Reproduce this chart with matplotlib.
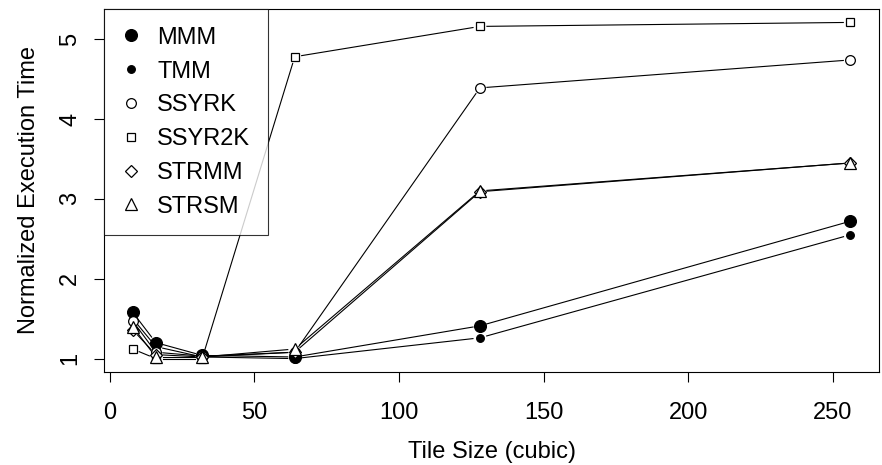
import numpy as np
import matplotlib
matplotlib.use("Agg")
import matplotlib.pyplot as plt

plt.rcParams['font.family'] = ['Liberation Sans', 'DejaVu Sans']

tile_size = [8, 16, 32, 64, 128, 256]
mmm = [1.58, 1.20, 1.04, 1.02, 1.41, 2.72]
tmm = [1.50, 1.15, 1.02, 1.00, 1.26, 2.55]
ssyrk = [1.47, 1.08, 1.03, 1.08, 4.39, 4.74]
ssyr2k = [1.12, 1.00, 1.00, 4.78, 5.16, 5.21]
strmm = [1.36, 1.05, 1.02, 1.08, 3.09, 3.45]
strsm = [1.40, 1.02, 1.02, 1.12, 3.10, 3.45]

series = [
    ("MMM", mmm, dict(marker='o', markersize=8.5, markerfacecolor='black')),
    ("TMM", tmm, dict(marker='o', markersize=5.5, markerfacecolor='black')),
    ("SSYRK", ssyrk, dict(marker='o', markersize=7, markerfacecolor='white')),
    ("SSYR2K", ssyr2k, dict(marker='s', markersize=6, markerfacecolor='white')),
    ("STRMM", strmm, dict(marker='D', markersize=6, markerfacecolor='white')),
    ("STRSM", strsm, dict(marker='^', markersize=8, markerfacecolor='white')),
]
FS = 17


def gapped_lines(ax, xs, ys, gap=7):
    # R type="b": segments stop short of the points
    pts = ax.transData.transform(np.column_stack([xs, ys]))
    inv = ax.transData.inverted()
    for p0, p1 in zip(pts[:-1], pts[1:]):
        d = p1 - p0
        length = np.hypot(*d)
        if length <= 2 * gap:
            continue
        u = d / length
        a = inv.transform(p0 + u * gap)
        b = inv.transform(p1 - u * gap)
        ax.plot([a[0], b[0]], [a[1], b[1]], color='black', lw=0.8)


fig = plt.figure(figsize=(8.82, 4.65), dpi=100)
ax = fig.add_axes([104 / 882, 93 / 465, 775 / 882, 363 / 465])
# R default: 4% padding around the data range
ax.set_xlim(-1.92, 265.92)
ax.set_ylim(0.832, 5.378)

handles = []
for name, vals, style in series:
    gapped_lines(ax, tile_size, vals)
    h, = ax.plot(tile_size, vals, linestyle='none', color='black',
                 markeredgecolor='black', markeredgewidth=0.9, label=name, **style)
    handles.append(h)

ax.set_xticks([0, 50, 100, 150, 200, 250])
ax.set_yticks([1, 2, 3, 4, 5])
ax.tick_params(direction='out', length=7.5, width=0.8, labelsize=FS)
ax.tick_params(axis='x', pad=14)
ax.tick_params(axis='y', pad=9)
for lab in ax.get_yticklabels():
    lab.set_rotation(90)
    lab.set_va('center')
for s in ax.spines.values():
    s.set_linewidth(0.8)
ax.set_xlabel("Tile Size (cubic)", fontsize=FS, labelpad=12)
ax.set_ylabel("Normalized Execution Time", fontsize=FS, labelpad=14)

leg = ax.legend(handles=handles, loc='upper left', fontsize=FS, frameon=True,
                fancybox=False, borderaxespad=0, labelspacing=0.5,
                handlelength=0.8, handletextpad=0.7, borderpad=0.75)
leg.get_frame().set_edgecolor('black')
leg.get_frame().set_linewidth(0.8)

fig.savefig("out.png", dpi=100)
